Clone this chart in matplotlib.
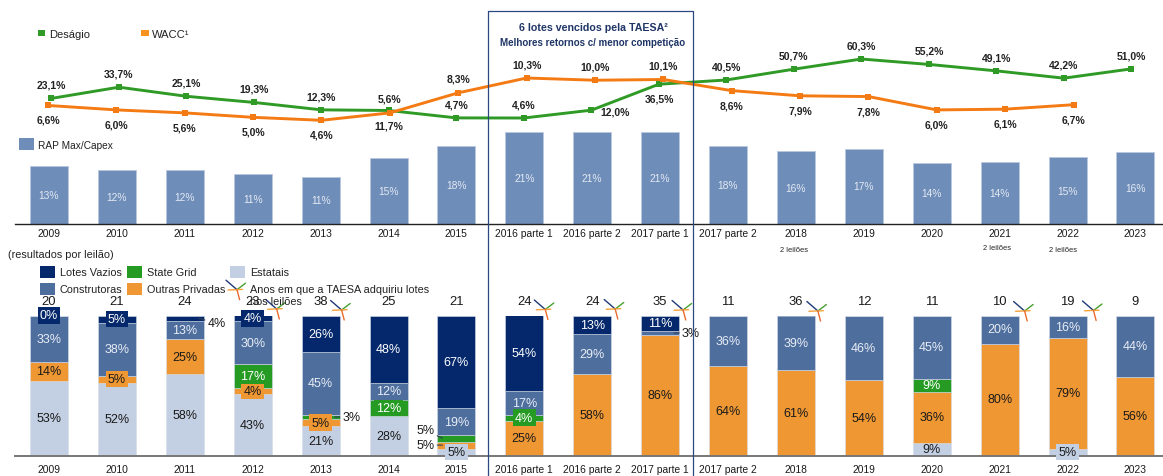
import matplotlib
matplotlib.use("Agg")
import matplotlib.pyplot as plt
import numpy as np
from matplotlib.patches import Rectangle

plt.rcParams['font.family'] = ['Liberation Sans', 'DejaVu Sans']

W, H = 1163, 477

categories = ['2009', '2010', '2011', '2012', '2013', '2014', '2015', '2016 parte 1', '2016 parte 2',
              '2017 parte 1', '2017 parte 2', '2018', '2019', '2020', '2021', '2022', '2023']
desagio = [23.1, 33.7, 25.1, 19.3, 12.3, 11.7, 4.7, 4.6, 12.0, 36.5, 40.5, 50.7, 60.3, 55.2, 49.1, 42.2, 51.0]
wacc = [6.6, 6.0, 5.6, 5.0, 4.6, 5.6, 8.3, 10.3, 10.0, 10.1, 8.6, 7.9, 7.8, 6.0, 6.1, 6.7]
rap_heights = [13.2, 12.4, 12.3, 11.4, 10.8, 15.0, 17.8, 21, 21, 21, 17.8, 16.6, 17.2, 14.0, 14.3, 15.3, 16.5]
rap_labels = [13, 12, 12, 11, 11, 15, 18, 21, 21, 21, 18, 16, 17, 14, 14, 15, 16]
estatais = [53, 52, 58, 43, 21, 28, 5, 0, 0, 0, 0, 0, 0, 9, 0, 5, 0]
outras = [14, 5, 25, 4, 5, 0, 5, 25, 58, 86, 64, 61, 54, 36, 80, 79, 56]
state_grid = [0, 0, 0, 17, 3, 12, 5, 4, 0, 0, 0, 0, 0, 9, 0, 0, 0]
construtoras = [33, 38, 13, 30, 45, 12, 19, 17, 29, 3, 36, 39, 46, 45, 20, 16, 44]
lotes_vazios = [0, 5, 4, 4, 26, 48, 67, 54, 13, 11, 0, 0, 0, 0, 0, 0, 0]
totals = [20, 21, 24, 23, 38, 25, 21, 24, 24, 35, 11, 36, 12, 11, 10, 19, 9]
taesa_years = ['2012', '2013', '2016 parte 1', '2016 parte 2', '2017 parte 1', '2018', '2021', '2022']
two_auctions = ['2018', '2021', '2022']

NAVY, BLUE, ORANGE, GREEN, LIGHT = '#04286B', '#4E6E9E', '#EE9733', '#259B24', '#C3CFE2'
RAPC = '#6E8DB9'
LINE_G, LINE_O = '#2F9A26', '#F47B14'
BOX = '#2B4883'
TXT = '#1A1A1A'


def rect_axes(x0, y0, x1, y1, **kw):
    ax = fig.add_axes([x0 / W, 1 - y1 / H, (x1 - x0) / W, (y1 - y0) / H], **kw)
    ax.patch.set_alpha(0)
    return ax


def lim(p0, slope, a, b):
    """data limits for an axis spanning pixels a..b, where data v sits at pixel p0 + slope*v"""
    return (a - p0) / slope, (b - p0) / slope


fig = plt.figure(figsize=(W / 100, H / 100), dpi=100, facecolor='white')
n = len(categories)
x = np.arange(n)
BX0, BDX = 49.0, 67.9
BARW = 38 / BDX


def bar_axes(y0, y1, base_color, lw, pad):
    ax = rect_axes(15, y0, 1163, y1)
    ax.set_xlim(*lim(BX0, BDX, 15, 1163))
    for s in ('top', 'left', 'right'):
        ax.spines[s].set_visible(False)
    ax.spines['bottom'].set_color(base_color)
    ax.spines['bottom'].set_linewidth(lw)
    ax.set_yticks([])
    ax.set_xticks(x, categories, fontsize=7.4, color=TXT)
    ax.tick_params(axis='x', length=0, pad=pad)
    return ax


# ---- RAP Max/Capex
ax_r = bar_axes(126, 225, '#222222', 1.0, 3.0)
ax_r.set_ylim(0, 99 / 4.37)
ax_r.bar(x, rap_heights, width=BARW, color=RAPC, edgecolor='#B9C8DE', linewidth=0.6)
for i, (h_, l_) in enumerate(zip(rap_heights, rap_labels)):
    ax_r.text(i, h_ / 2, f'{l_}%', ha='center', va='center', fontsize=7.4, color='#E4EAF3')

# ---- Stacked auction results
ax_b = bar_axes(316.5, 456.5, '#777777', 1.4, 6.0)
ax_b.set_ylim(0, 100)
stack = np.array([estatais, outras, state_grid, construtoras, lotes_vazios], dtype=float)
share = stack / stack.sum(axis=0) * 100
colors = [LIGHT, ORANGE, GREEN, BLUE, NAVY]
txtcol = [TXT, TXT, 'white', '#E8EDF5', 'white']
box_small = {'2010': (1, 4), '2012': (1, 2, 4), '2013': (1,), '2014': (2,), '2015': (0,),
             '2016 parte 1': (2,), '2022': (0,)}
# (bar index, segment index): label offset in pixels from a point 5 px inside the bar edge
outside = {(2, 4): (18, -5), (4, 2): (17, 0), (6, 2): (-17, 8), (6, 1): (-17, 0), (9, 3): (17, 0)}
bottom = np.zeros(n)
for k, c in enumerate(colors):
    ax_b.bar(x, share[k], bottom=bottom, width=BARW, color=c, edgecolor='#D5DCE8', linewidth=0.4)
    for i in range(n):
        if stack[k, i] == 0 and not (k == 4 and i == 0):
            continue
        mid = bottom[i] + share[k, i] / 2
        lab = f'{int(stack[k, i])}%'
        if (i, k) in outside:
            off = outside[(i, k)]
            side = np.sign(off[0]) * (BARW / 2 - 5 / BDX)
            ax_b.annotate(lab, (i + side, mid), xytext=off, textcoords='offset pixels', ha='center', va='center',
                          fontsize=9, color=TXT, annotation_clip=False,
                          arrowprops=dict(arrowstyle='-', color='#2F3F55', lw=0.8, shrinkA=0, shrinkB=0))
            continue
        boxed = (i == 0 and k == 4) or k in box_small.get(categories[i], ())
        kw = dict(bbox=dict(facecolor=c, edgecolor='none', pad=1.6)) if boxed else {}
        ax_b.text(i, mid, lab, ha='center', va='center', fontsize=9, color=txtcol[k], clip_on=False, **kw)
    bottom += share[k]
for i, t in enumerate(totals):
    ax_b.annotate(str(t), (i, 100), xytext=(0, 14.5), textcoords='offset pixels', ha='center', va='center',
                  fontsize=9.4, color=TXT, annotation_clip=False)

# ---- Lines
GX0, GDX = 51.4, 67.5
OX0, ODX = 48.0, 68.37
ax_g = rect_axes(0, 0, W, 130)
ax_g.axis('off')
ax_g.set_xlim(*lim(GX0, GDX, 0, W))
ax_g.set_ylim(*lim(119 + 4.6 * 1.059, -1.059, 130, 0))
ax_g.plot(x, desagio, color=LINE_G, lw=2.1, marker='s', ms=4.2, mew=0, solid_joinstyle='round')
g_off = {5: (0, -15), 8: (24, -1), 9: (1, -14.5)}
for i, v in enumerate(desagio):
    dx, dy = g_off.get(i, (0, 13.5))
    ax_g.annotate(f'{v:.1f}%'.replace('.', ','), (i, v), xytext=(dx, dy), textcoords='offset pixels',
                  ha='center', va='center', fontsize=7.5, fontweight='bold', color='#222222')

ax_o = rect_axes(0, 0, W, 130)
ax_o.axis('off')
ax_o.set_xlim(*lim(OX0, ODX, 0, W))
ax_o.set_ylim(*lim(121.3 + 4.6 * 7.42, -7.42, 130, 0))
ax_o.plot(x[:len(wacc)], wacc, color=LINE_O, lw=2.1, marker='s', ms=4.2, mew=0, solid_joinstyle='round')
o_up = {5, 6, 7, 8, 9}
for i, v in enumerate(wacc):
    dy = 14 if i in o_up else -14.5
    ax_o.annotate(f'{v:.1f}%'.replace('.', ','), (i, v), xytext=(0, dy), textcoords='offset pixels',
                  ha='center', va='center', fontsize=7.5, fontweight='bold', color='#222222')

# ---- Overlay: legends, highlight box, notes
ov = rect_axes(0, 0, W, H)
ov.axis('off')
ov.set_xlim(0, W)
ov.set_ylim(H, 0)


def swatch(x0, y0, x1, y1, c, label, tx, ty, fs=8):
    ov.add_patch(Rectangle((x0, y0), x1 - x0, y1 - y0, facecolor=c, edgecolor='none'))
    ov.text(tx, ty, label, ha='left', va='center', fontsize=fs, color='#222222')


def star(cx, cy):
    ov.plot([cx - 11, cx], [cy - 9.5, cy], color='#1F3A78', lw=1.0, solid_capstyle='round')
    ov.plot([cx, cx + 8.5], [cy, cy - 6.5], color='#46A02E', lw=1.0, solid_capstyle='round')
    ov.plot([cx - 9, cx + 5.5], [cy + 0.3, cy - 0.3], color='#F7A13A', lw=1.0, solid_capstyle='round')
    ov.plot([cx, cx + 2.6], [cy, cy + 10], color='#EC6B2C', lw=1.0, solid_capstyle='round')


swatch(37.5, 30.5, 45, 37, LINE_G, 'Deságio', 48.8, 35)
swatch(141, 30.5, 149, 37, '#F7931E', 'WACC¹', 152, 35)
swatch(19, 139, 33.7, 150.7, RAPC, 'RAP Max/Capex', 38.5, 146, 7.3)
ov.text(8.5, 255, '(resultados por leilão)', ha='left', va='center', fontsize=7.8, color='#222222')
swatch(40, 267, 55, 278.7, NAVY, 'Lotes Vazios', 59.6, 273, 7.8)
swatch(127, 267, 142.4, 278.7, GREEN, 'State Grid', 147, 273, 7.8)
swatch(230, 267, 245, 278.7, LIGHT, 'Estatais', 249.7, 273, 7.8)
swatch(40, 284, 55, 295.5, BLUE, 'Construtoras', 59.6, 290, 7.8)
swatch(127, 284, 142.4, 295.5, ORANGE, 'Outras Privadas', 147, 290, 7.8)
star(237, 290.7)
ov.text(249.7, 290, 'Anos em que a TAESA adquiriu lotes', ha='left', va='center', fontsize=7.8, color='#222222')
ov.text(249.7, 302.5, 'nos leilões', ha='left', va='center', fontsize=7.8, color='#222222')

star_off = {'2012': (24, 310), '2013': (21, 311), '2016 parte 1': (21, 310.5), '2016 parte 2': (23, 310),
            '2017 parte 1': (23, 311), '2018': (22, 312), '2021': (25, 312), '2022': (26, 311.5)}
for yr in taesa_years:
    dx, cy = star_off[yr]
    star(BX0 + BDX * categories.index(yr) + dx, cy)

note_pos = {'2018': (794.5, 250.7), '2021': (997, 249), '2022': (1062.7, 250.7)}
for yr in two_auctions:
    ov.text(*note_pos[yr], '2 leilões', ha='center', va='center', fontsize=5.4, color='#222222')

ov.plot([488.4, 488.4, 693, 693], [H, 12.3, 12.3, H], color=BOX, lw=0.9, clip_on=False)
ov.text(593, 27.7, '6 lotes vencidos pela TAESA²', ha='center', va='center', fontsize=7.7,
        fontweight='bold', color='#1F3566')
ov.text(593, 43.3, 'Melhores retornos c/ menor competição', ha='center', va='center', fontsize=7.0,
        fontweight='bold', color='#1F3566')

fig.savefig('out.png', dpi=100)
